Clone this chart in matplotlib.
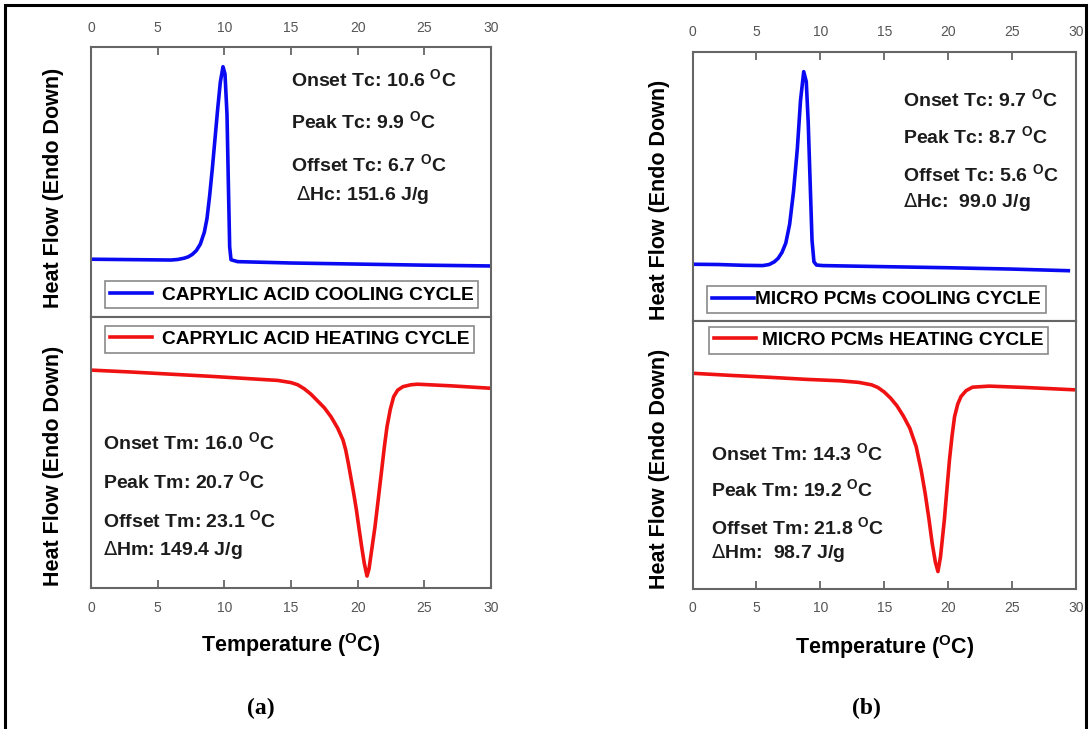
import matplotlib
matplotlib.use("Agg")
import matplotlib.pyplot as plt
from matplotlib.patches import Rectangle

plt.rcParams['font.family'] = ['Liberation Sans', 'DejaVu Sans']

# DSC traces, normalised heat flow (endo down)
temp_cool_a = [0, 2, 4, 6, 6.5, 7, 7.3, 7.6, 7.9, 8.2, 8.5, 8.7, 8.9, 9.1, 9.3,
               9.5, 9.7, 9.9, 10.05, 10.2, 10.3, 10.4, 10.5, 11, 15, 20, 25, 30]
flow_cool_a = [0.214, 0.213, 0.212, 0.211, 0.213, 0.218, 0.223, 0.232, 0.246, 0.27,
               0.314, 0.365, 0.45, 0.55, 0.66, 0.77, 0.87, 0.927, 0.90, 0.75,
               0.50, 0.26, 0.212, 0.205, 0.200, 0.196, 0.192, 0.189]

temp_heat_a = [0, 3, 6, 9, 12, 14, 15, 15.5, 16, 16.5, 17, 17.5, 18, 18.5, 18.9,
               19.1, 19.3, 19.5, 19.7, 19.9, 20.1, 20.3, 20.5, 20.7, 20.85, 21.05,
               21.3, 21.55, 21.8, 22.0, 22.2, 22.45, 22.7, 23.0, 23.4, 24.0, 24.5,
               27, 30]
flow_heat_a = [0.804, 0.797, 0.789, 0.781, 0.772, 0.766, 0.758, 0.750, 0.735, 0.715,
               0.690, 0.665, 0.632, 0.590, 0.546, 0.51, 0.46, 0.405, 0.35, 0.29,
               0.22, 0.152, 0.09, 0.044, 0.07, 0.14, 0.226, 0.33, 0.435, 0.52,
               0.595, 0.66, 0.706, 0.730, 0.743, 0.750, 0.752, 0.746, 0.737]

temp_cool_b = [0, 2, 4, 5.5, 6.0, 6.4, 6.7, 7.0, 7.3, 7.6, 7.9, 8.2, 8.45, 8.7, 8.9,
               9.05, 9.2, 9.35, 9.5, 9.7, 10.2, 15, 20, 25, 29.4]
flow_cool_b = [0.211, 0.210, 0.207, 0.206, 0.210, 0.220, 0.233, 0.255, 0.29, 0.36,
               0.48, 0.64, 0.82, 0.927, 0.89, 0.74, 0.52, 0.30, 0.22, 0.208,
               0.206, 0.202, 0.198, 0.193, 0.187]

temp_heat_b = [0, 3, 6, 9, 11.5, 13, 14, 14.5, 15, 15.5, 16, 16.5, 17, 17.5, 17.9,
               18.2, 18.5, 18.75, 19.0, 19.2, 19.4, 19.7, 19.9, 20.1, 20.3, 20.5,
               20.75, 21.0, 21.4, 21.9, 23.2, 26, 30]
flow_heat_b = [0.805, 0.797, 0.790, 0.782, 0.777, 0.771, 0.762, 0.752, 0.735, 0.712,
               0.683, 0.645, 0.600, 0.531, 0.44, 0.357, 0.26, 0.17, 0.10, 0.065,
               0.12, 0.257, 0.37, 0.481, 0.57, 0.643, 0.69, 0.718, 0.74, 0.753,
               0.757, 0.752, 0.743]

# transition data: onset, peak, offset (deg C), enthalpy (J/g)
cool_a = [10.6, 9.9, 6.7, 151.6]
heat_a = [16.0, 20.7, 23.1, 149.4]
cool_b = [9.7, 8.7, 5.6, 99.0]
heat_b = [14.3, 19.2, 21.8, 98.7]

legend_a = ["CAPRYLIC ACID COOLING CYCLE", "CAPRYLIC ACID HEATING CYCLE"]
legend_b = ["MICRO PCMs COOLING CYCLE", "MICRO PCMs HEATING CYCLE"]
xticks = [0, 5, 10, 15, 20, 25, 30]

BLUE = '#0a0af2'
RED = '#f01212'
SPINE = '#666666'
DEG = r" $^{\mathregular{O}}$C"

fig = plt.figure(figsize=(10.9, 7.29), dpi=100)
W, H = 1090.0, 729.0


def box(left, top, right, bottom):
    return [left / W, 1 - bottom / H, (right - left) / W, (bottom - top) / H]


def style(ax, top_ticks):
    ax.set_xlim(0, 30)
    ax.set_ylim(0, 1)
    ax.set_yticks([])
    ax.set_xticks(xticks)
    for s in ax.spines.values():
        s.set_color(SPINE)
        s.set_linewidth(1.5)
    ax.tick_params(axis='x', direction='in', length=6, width=1.3, color=SPINE,
                   labelsize=10, labelcolor='#555555', pad=9,
                   top=top_ticks, labeltop=top_ticks,
                   bottom=not top_ticks, labelbottom=not top_ticks)


def notes(ax, x, ys, kind, vals, dx_delta=0.0, gap=" "):
    lines = ["Onset T%s: %.1f" % (kind, vals[0]) + DEG,
             "Peak T%s: %.1f" % (kind, vals[1]) + DEG,
             "Offset T%s: %.1f" % (kind, vals[2]) + DEG]
    for s, y in zip(lines, ys[:3]):
        ax.text(x, y, s, transform=ax.transAxes, ha='left', va='center',
                fontsize=14, fontweight='bold', color='#1c1c1c')
    h = "H" + ("c" if kind == "c" else "m")
    ax.text(x + dx_delta, ys[3], r"$\Delta$" + h + ":" + gap + "%.1f J/g" % vals[3],
            transform=ax.transAxes, ha='left', va='center',
            fontsize=14, fontweight='bold', color='#1c1c1c')


def legend(ax, label, color, anchor, loc, textpad):
    ln, = ax.plot([], [], color=color, lw=2.6)
    lg = ax.legend([ln], [label], loc=loc, bbox_to_anchor=anchor,
                   borderaxespad=0, fancybox=False, edgecolor='#8a8a8a',
                   framealpha=1, handlelength=2.2, handletextpad=textpad,
                   borderpad=0.25, prop={'weight': 'bold', 'size': 13.8})
    lg.get_frame().set_linewidth(1.2)


def ylabel(ax, x, y):
    ax.set_ylabel("Heat Flow (Endo Down)", fontsize=15.5, fontweight='bold')
    ax.yaxis.set_label_coords(x, y)
    ax.yaxis.label.set_verticalalignment('center')
    ax.yaxis.label.set_horizontalalignment('center')


def xlabel(ax, y):
    ax.set_xlabel("Temperature (" + r"$^{\mathregular{O}}$" + "C)",
                  fontsize=15.5, fontweight='bold')
    ax.xaxis.set_label_coords(0.5, y)
    ax.xaxis.label.set_verticalalignment('center')


# panel (a): caprylic acid
ax1 = fig.add_axes(box(91, 47, 491, 317))
ax2 = fig.add_axes(box(91, 317, 491, 588))
ax1.plot(temp_cool_a, flow_cool_a, color=BLUE, lw=2.6, solid_joinstyle='round')
ax2.plot(temp_heat_a, flow_heat_a, color=RED, lw=2.6, solid_joinstyle='round')
style(ax1, True)
style(ax2, False)
notes(ax1, 0.50, [0.878, 0.722, 0.563, 0.452], "c", cool_a, dx_delta=0.012)
notes(ax2, 0.031, [0.534, 0.392, 0.248, 0.140], "m", heat_a)
legend(ax1, legend_a[0], BLUE, (0.035, 0.032), 'lower left', 0.5)
legend(ax2, legend_a[1], RED, (0.035, 0.967), 'upper left', 0.5)
ylabel(ax1, -0.0925, 0.478)
ylabel(ax2, -0.0925, 0.45)
xlabel(ax2, -0.21)

# panel (b): micro PCMs
ax3 = fig.add_axes(box(692.5, 52, 1076, 321))
ax4 = fig.add_axes(box(692.5, 321, 1076, 589))
ax3.plot(temp_cool_b, flow_cool_b, color=BLUE, lw=2.6, solid_joinstyle='round')
ax4.plot(temp_heat_b, flow_heat_b, color=RED, lw=2.6, solid_joinstyle='round')
style(ax3, True)
style(ax4, False)
notes(ax3, 0.548, [0.822, 0.685, 0.543, 0.443], "c", cool_b, gap="  ")
notes(ax4, 0.048, [0.506, 0.369, 0.230, 0.135], "m", heat_b, gap="  ")
legend(ax3, legend_b[0], BLUE, (0.038, 0.029), 'lower left', 0.05)
legend(ax4, legend_b[1], RED, (0.043, 0.978), 'upper left', 0.3)
ylabel(ax3, -0.086, 0.45)
ylabel(ax4, -0.086, 0.448)
xlabel(ax4, -0.215)

fig.text(261 / W, 1 - 708 / H, "(a)", ha='center', va='center', fontsize=17,
         fontweight='bold', family='Liberation Serif')
fig.text(866 / W, 1 - 708 / H, "(b)", ha='center', va='center', fontsize=17,
         fontweight='bold', family='Liberation Serif')

# outer frame
fig.add_artist(Rectangle((5 / W, -0.05), 1081 / W, 1.05 - 5 / H,
                         transform=fig.transFigure, fill=False,
                         edgecolor='black', lw=2.2))

fig.savefig("out.png", dpi=100)
